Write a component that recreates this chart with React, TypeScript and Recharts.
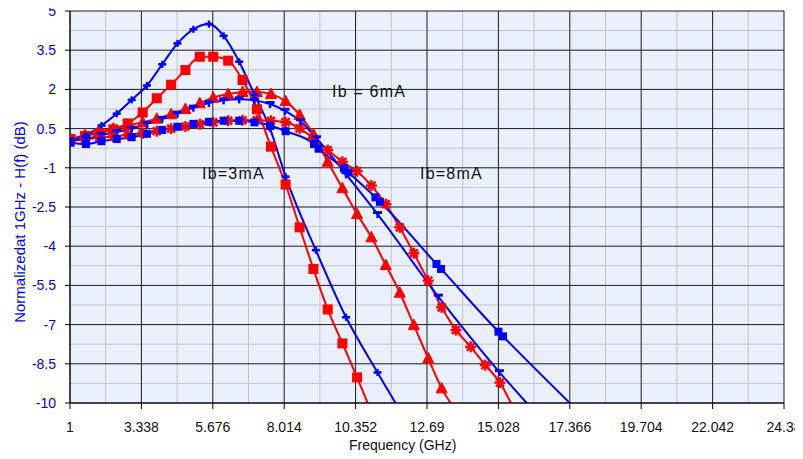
import React from 'react';
import { LineChart, Line, XAxis, YAxis, CartesianGrid } from 'recharts';

// axis ticks (major) and the minor grid in between
const FREQ_TICKS = [1, 3.338, 5.676, 8.014, 10.352, 12.69, 15.028, 17.366, 19.704, 22.042, 24.38];
const FREQ_MINOR = [2.169, 4.507, 6.845, 9.183, 11.521, 13.859, 16.197, 18.535, 20.873, 23.211];
const DB_TICKS = [-10, -8.5, -7, -5.5, -4, -2.5, -1, 0.5, 2, 3.5, 5];
const DB_MINOR = [-9.25, -7.75, -6.25, -4.75, -3.25, -1.75, -0.25, 1.25, 2.75, 4.25];

// measured series (red) on the 0.4676 GHz step
const redFreq = [
  1.02, 1.49, 1.96, 2.42, 2.89, 3.38, 3.84, 4.31, 4.78, 5.25, 5.69, 6.18, 6.65, 7.12, 7.58, 8.06,
  8.52, 8.97, 9.44, 9.92, 10.4, 10.87, 11.34, 11.8, 12.26, 12.73, 13.17, 13.64, 14.12, 14.6, 15.08, 15.56,
];
const redSquare = [
  0.1, 0.22, 0.33, 0.47, 0.7, 1.12, 1.66, 2.18, 2.74, 3.25, 3.25, 3.1, 2.36, 1.24, -0.19, -1.64,
  -3.28, -4.87, -6.42, -7.72, -9.02, -10.35,
];
const redTriangle = [
  0.1, 0.25, 0.38, 0.5, 0.62, 0.74, 0.88, 1.05, 1.25, 1.47, 1.68, 1.82, 1.9, 1.9, 1.82, 1.55,
  1.02, 0.28, -0.77, -1.78, -2.77, -3.66, -4.72, -5.78, -7.02, -8.29, -9.44, -10.3,
];
const redStar = [
  0.05, 0.1, 0.15, 0.2, 0.26, 0.32, 0.4, 0.5, 0.58, 0.67, 0.74, 0.8, 0.82, 0.82, 0.8, 0.75,
  0.51, 0.13, -0.32, -0.77, -1.13, -1.68, -2.39, -3.28, -4.27, -5.32, -6.34, -7.21, -7.85, -8.55,
  -9.22, -10.3,
];

// model series (blue)
const bluePlusFreq = [1.02, 1.52, 2.03, 2.53, 3.02, 3.52, 4.02, 4.52, 5.04, 5.55, 6.03, 6.54, 7.04, 7.55, 8.06, 9.05, 10.04, 11.07, 12.07];
const bluePlus = [0.05, 0.25, 0.62, 1.07, 1.6, 2.15, 2.96, 3.76, 4.3, 4.5, 4.05, 3.06, 1.8, 0.5, -1.34, -4.15, -6.72, -8.83, -10.8];

const blueDashFreq = [1.02, 1.52, 2.03, 2.53, 3.02, 3.52, 4.02, 4.52, 5.04, 5.55, 6.03, 6.54, 7.04, 7.55, 8.04, 8.55, 9.07, 10.04, 11.07, 13.06, 15.06, 17.06];
const blueDash = [0.05, 0.1, 0.25, 0.37, 0.5, 0.68, 0.87, 1.07, 1.3, 1.48, 1.58, 1.62, 1.58, 1.44, 1.18, 0.78, 0.13, -1.25, -2.77, -5.93, -8.82, -11.4];

const blueSquareFreq = [
  1.02, 1.52, 2.03, 2.53, 3.02, 3.52, 4.02, 4.52, 5.04, 5.55, 6.03, 6.54, 7.04, 7.55, 8.06,
  8.99, 9.14, 9.97, 10.12, 11.0, 11.15, 13.0, 13.15, 15.03, 15.18, 19.03,
];
const blueSquare = [
  -0.04, -0.09, 0.02, 0.1, 0.17, 0.3, 0.45, 0.57, 0.68, 0.76, 0.8, 0.8, 0.74, 0.62, 0.4,
  -0.09, -0.27, -1.02, -1.18, -2.13, -2.3, -4.68, -4.87, -7.27, -7.45, -11.9,
];

const RED = '#FF0000';
const BLUE = '#0000FF';
const FONT = '"Liberation Sans", Arial, sans-serif';

const zip = (fs: number[], vs: number[]) => vs.map((v, i) => ({ f: fs[i], v }));

type DotProps = { cx?: number; cy?: number; index?: number };

const SquareDot = (size: number, color: string) => (p: DotProps) => {
  if (p.cx == null || p.cy == null) return <g key={p.index} />;
  return <rect key={p.index} x={p.cx - size / 2} y={p.cy - size / 2} width={size} height={size} fill={color} />;
};

const TriangleDot = (p: DotProps) => {
  if (p.cx == null || p.cy == null) return <g key={p.index} />;
  const { cx, cy } = p;
  return (
    <polygon
      key={p.index}
      points={`${cx},${cy - 6} ${cx + 5.5},${cy + 4.5} ${cx - 5.5},${cy + 4.5}`}
      fill={RED}
      stroke={RED}
      strokeWidth={1}
    />
  );
};

const StarDot = (p: DotProps) => {
  if (p.cx == null || p.cy == null) return <g key={p.index} />;
  const { cx, cy } = p;
  const r = 5.5;
  const d = r * 0.72;
  return (
    <g key={p.index} stroke={RED} strokeWidth={2.4}>
      <line x1={cx - r} y1={cy} x2={cx + r} y2={cy} />
      <line x1={cx} y1={cy - r} x2={cx} y2={cy + r} />
      <line x1={cx - d} y1={cy - d} x2={cx + d} y2={cy + d} />
      <line x1={cx - d} y1={cy + d} x2={cx + d} y2={cy - d} />
      <circle cx={cx} cy={cy} r={2.5} fill={RED} stroke="none" />
    </g>
  );
};

const PlusDot = (p: DotProps) => {
  if (p.cx == null || p.cy == null) return <g key={p.index} />;
  const { cx, cy } = p;
  return (
    <g key={p.index} fill={BLUE}>
      <rect x={cx - 4} y={cy - 1.3} width={8} height={2.6} />
      <rect x={cx - 1.2} y={cy - 3.5} width={2.4} height={7} />
    </g>
  );
};

const TeeDot = (p: DotProps) => {
  if (p.cx == null || p.cy == null) return <g key={p.index} />;
  const { cx, cy } = p;
  return (
    <g key={p.index} fill={BLUE}>
      <rect x={cx - 4.5} y={cy - 3} width={9} height={3} />
      <rect x={cx - 1.2} y={cy - 1} width={2.4} height={5} />
    </g>
  );
};

const labelStyle: React.CSSProperties = {
  position: 'absolute',
  fontFamily: FONT,
  fontSize: 16,
  lineHeight: 1,
  letterSpacing: 1.2,
  color: '#111',
  whiteSpace: 'nowrap',
};

export default function App() {
  // pull the chart over the body's 8px margin so it fills the page
  return (
    <div style={{ position: 'relative', width: 803, height: 459, margin: '-8px 0 0 -8px' }}>
      <LineChart width={803} height={459} margin={{ top: 11, right: 19, left: 10, bottom: 26 }}>
        <CartesianGrid fill="#EAF0FB" stroke="#C4C4C4" strokeWidth={1} verticalValues={FREQ_MINOR} horizontalValues={DB_MINOR} />
        <CartesianGrid stroke="#1A1A1A" strokeWidth={1} verticalValues={FREQ_TICKS} horizontalValues={DB_TICKS} />
        <XAxis
          type="number"
          dataKey="f"
          domain={[1, 24.38]}
          ticks={FREQ_TICKS}
          interval={0}
          allowDataOverflow
          height={30}
          tickSize={6}
          tickMargin={13}
          axisLine={{ stroke: '#000' }}
          tickLine={{ stroke: '#000' }}
          tick={{ fontSize: 14, fill: '#111', fontFamily: FONT }}
        />
        <YAxis
          type="number"
          dataKey="v"
          domain={[-10, 5]}
          ticks={DB_TICKS}
          interval={0}
          allowDataOverflow
          width={60}
          tickSize={5}
          tickMargin={9}
          axisLine={{ stroke: '#000' }}
          tickLine={{ stroke: '#000' }}
          tick={{ fontSize: 14, fill: BLUE, fontFamily: FONT }}
        />
        <Line data={zip(redFreq, redStar)} dataKey="v" type="monotone" stroke={RED} strokeWidth={2} dot={StarDot} isAnimationActive={false} />
        <Line data={zip(redFreq, redTriangle)} dataKey="v" type="monotone" stroke={RED} strokeWidth={2} dot={TriangleDot} isAnimationActive={false} />
        <Line data={zip(redFreq, redSquare)} dataKey="v" type="monotone" stroke={RED} strokeWidth={2} dot={SquareDot(10, RED)} isAnimationActive={false} />
        <Line data={zip(blueSquareFreq, blueSquare)} dataKey="v" type="monotone" stroke={BLUE} strokeWidth={2} dot={SquareDot(8, BLUE)} isAnimationActive={false} />
        <Line data={zip(blueDashFreq, blueDash)} dataKey="v" type="monotone" stroke={BLUE} strokeWidth={2} dot={TeeDot} isAnimationActive={false} />
        <Line data={zip(bluePlusFreq, bluePlus)} dataKey="v" type="monotone" stroke={BLUE} strokeWidth={2} dot={PlusDot} isAnimationActive={false} />
      </LineChart>

      <div style={{ ...labelStyle, left: 332, top: 84 }}>Ib = 6mA</div>
      <div style={{ ...labelStyle, left: 202, top: 166 }}>Ib=3mA</div>
      <div style={{ ...labelStyle, left: 420, top: 166 }}>Ib=8mA</div>

      <div style={{ position: 'absolute', left: 349, top: 438, fontFamily: FONT, fontSize: 14, lineHeight: 1, color: '#111', whiteSpace: 'nowrap' }}>
        Frequency (GHz)
      </div>
      <div
        style={{
          position: 'absolute',
          left: 19,
          top: 222,
          transform: 'translate(-50%, -50%) rotate(-90deg)',
          fontFamily: FONT,
          fontSize: 15,
          lineHeight: 1,
          color: BLUE,
          whiteSpace: 'nowrap',
        }}
      >
        Normalizedat 1GHz - H(f) (dB)
      </div>
    </div>
  );
}
